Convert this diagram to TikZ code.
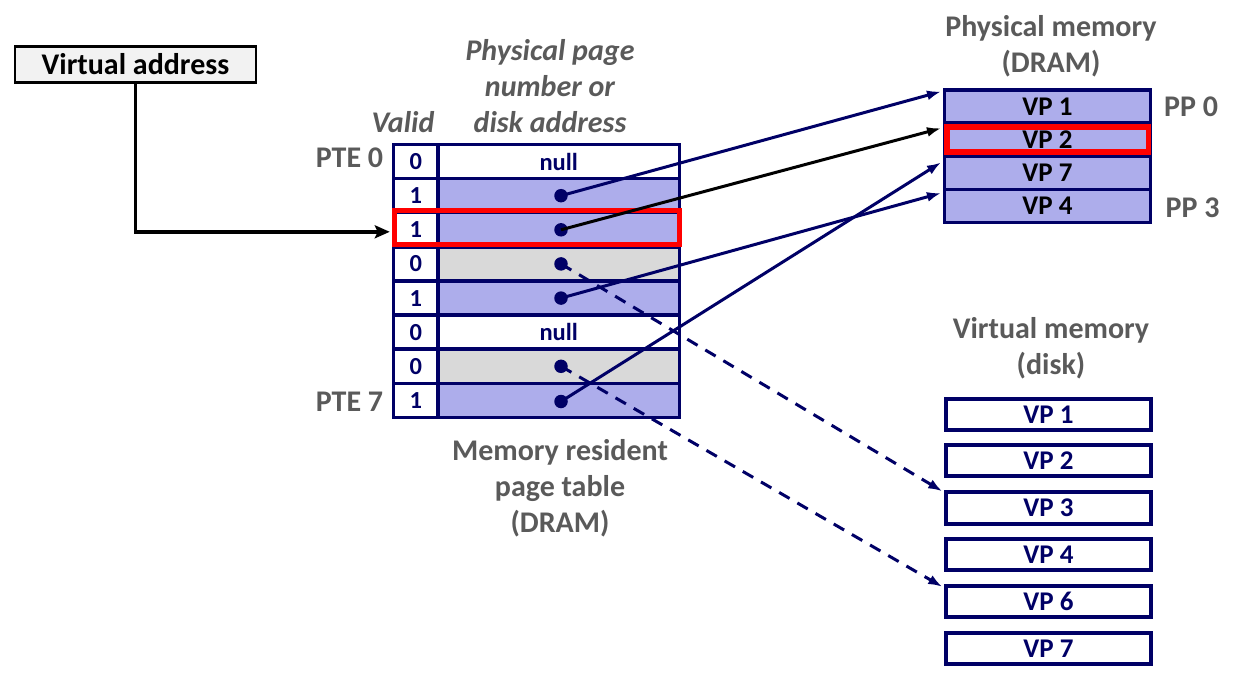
\documentclass[tikz,border=0pt]{standalone}
\usepackage{fontspec}
\setmainfont{Carlito}
\usetikzlibrary{arrows.meta}
\definecolor{navy}{HTML}{000066}
\definecolor{lav}{HTML}{ADADEB}
\definecolor{lgray}{HTML}{D9D9D9}
\definecolor{tgray}{HTML}{5A5A5A}
\definecolor{vafill}{HTML}{F2F2F2}
\definecolor{hired}{HTML}{FF0000}
\begin{document}
\begin{tikzpicture}[x=1pt,y=-1pt,
  cell/.style={draw=navy, line width=3.5pt, minimum height=34.125pt, inner sep=0pt,
    font=\fontsize{24.5}{24.5}\selectfont\bfseries, text=navy},
  pmbox/.style={draw=navy, line width=3.5pt, fill=lav, minimum width=206.3pt,
    minimum height=33.2pt, inner sep=0pt, font=\fontsize{27}{27}\selectfont\bfseries, text=black},
  vdbox/.style={draw=navy, line width=4pt, fill=white, minimum width=205.5pt,
    minimum height=31.5pt, inner sep=0pt, font=\fontsize{27}{27}\selectfont\bfseries, text=navy},
  title/.style={font=\fontsize{30}{36}\selectfont\bfseries, text=tgray, align=center, inner sep=0pt},
  ititle/.style={font=\fontsize{30}{36}\selectfont\bfseries\itshape, text=tgray, align=center, inner sep=0pt},
  dotn/.style={circle, fill=navy, minimum size=13.5pt, inner sep=0pt},
  parrow/.style={draw=navy, line width=3pt, -{Latex[length=14pt,width=10pt]}},
  darrow/.style={draw=navy, line width=3pt, dash pattern=on 12pt off 9pt, -{Latex[length=14pt,width=10pt]}},
  redbox/.style={draw=hired, line width=5pt}
]
\useasboundingbox (0,0) rectangle (1245,679);

% Virtual address
\node[draw=black, line width=2.5pt, fill=vafill, minimum width=241pt, minimum height=35.6pt,
  inner sep=0pt, font=\fontsize{30}{30}\selectfont\bfseries] (va) at (135.5,64.5) {Virtual address};

% page table
\foreach \i/\b/\f/\t in {0/0/white/null, 1/1/lav/{}, 2/1/lav/{}, 3/0/lgray/{}, 4/1/lav/{}, 5/0/white/null, 6/0/lgray/{}, 7/1/lav/{}} {
  \node[cell, fill=white, minimum width=44.5pt] (v\i) at (415.75, 161.56+34.125*\i) {\b};
  \node[cell, fill=\f, minimum width=241.5pt] (p\i) at (558.75, 161.56+34.125*\i) {\t};
}

% labels around page table
\node[ititle] (hdr) at (550,86) {Physical page\\number or\\disk address};
\node[ititle] (valid) at (403,122) {Valid};
\node[title] (pte0) at (349.5,158) {PTE 0};
\node[title] (pte7) at (349.5,402) {PTE 7};
\node[title] (mrpt) at (560,488) {Memory resident\\page table\\(DRAM)};

% physical memory
\node[title] (pmt) at (1051,46) {Physical memory\\(DRAM)};
\node[pmbox] (pm1) at (1047.4,106.4) {VP 1};
\node[pmbox] (pm2) at (1047.4,139.6) {VP 2};
\node[pmbox] (pm3) at (1047.4,172.8) {VP 7};
\node[pmbox] (pm4) at (1047.4,205.9) {VP 4};
\node[title] (pp0) at (1191,107) {PP 0};
\node[title] (pp3) at (1192.5,207.5) {PP 3};

% virtual memory (disk)
\node[title] (vmt) at (1051,348) {Virtual memory\\(disk)};
\node[vdbox] (vd1) at (1048.5,414.5) {VP 1};
\node[vdbox] (vd2) at (1048.5,460.5) {VP 2};
\node[vdbox] (vd3) at (1048.5,508) {VP 3};
\node[vdbox] (vd4) at (1048.5,554.5) {VP 4};
\node[vdbox] (vd6) at (1048.5,601.5) {VP 6};
\node[vdbox] (vd7) at (1048.5,648.5) {VP 7};

% red highlights
\draw[redbox] (394,211) rectangle (679,245);
\draw[redbox, line width=5.5pt] (947,127) rectangle (1148.5,152);

% arrow targets
\coordinate (t1) at ([xshift=-1.5pt,yshift=-3.5pt]pm1.north west);
\coordinate (t2) at ([xshift=-1.5pt,yshift=-7pt]pm2.north west);
\coordinate (t3) at ([xshift=-1.5pt,yshift=-8pt]pm3.north west);
\coordinate (t4) at ([xshift=-1.5pt,yshift=-5.5pt]pm4.north west);
\coordinate (t5) at ([xshift=-1.5pt,yshift=-1pt]vd3.north west);
\coordinate (t6) at ([xshift=-1.5pt,yshift=-3pt]vd6.north west);

% dots
\node[dotn] (d1) at (561,195.7) {};
\node[dotn] (d2) at (561,229.8) {};
\node[dotn] (d3) at (561,263.9) {};
\node[dotn] (d4) at (561,298.1) {};
\node[dotn] (d6) at (561,366.3) {};
\node[dotn] (d7) at (561,401.5) {};

% arrows
\draw[parrow] (d1.center) -- (t1);
\draw[parrow, draw=black] (d2.center) -- (t2);
\draw[parrow] (d4.center) -- (t4);
\draw[parrow] (d7.center) -- (t3);
\draw[darrow] (d3.center) -- (t5);
\draw[darrow] (d6.center) -- (t6);

% virtual address arrow
\draw[black, line width=3.5pt, -{Stealth[length=15pt,width=13pt,inset=3pt]}] (va.south) |- ([xshift=-2pt,yshift=-2pt]v2.west);
\end{tikzpicture}
\end{document}
